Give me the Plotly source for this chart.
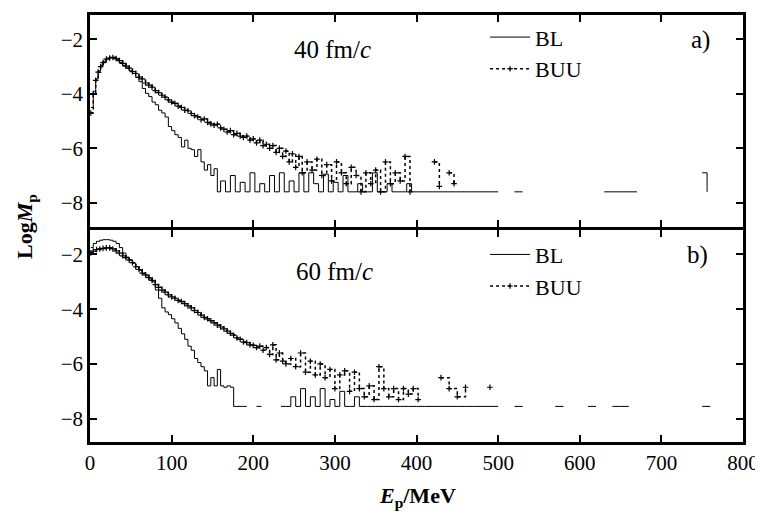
import plotly.graph_objects as go

# ---------------- data ----------------
# Panel a) 40 fm/c
E_A_BUU = [1, 4, 7, 10, 13, 16, 20, 24, 28, 32, 36, 40, 44, 48, 52, 56, 60, 64, 68, 72,
           76, 80, 84, 88, 92, 96, 100, 104, 108, 112, 116, 120, 124, 128, 132, 136, 140,
           144, 148, 152, 156, 160, 164, 168, 172, 176, 180, 184, 188, 192, 196, 200, 204,
           208, 212, 216, 220, 224, 228, 232, 236, 240, 244, 248, 252, 256, 260, 266, 272,
           278, 284, 290, 296, 302, 308, 314, 320, 326, 332, 338, 344, 350, 356, 362, 368,
           374, 380, 386, 392, 398, 422, 428, 434, 440, 446]
LOG_A_BUU = [-4.7, -4.0, -3.5, -3.2, -3.0, -2.85, -2.72, -2.68, -2.66, -2.7, -2.78, -2.88,
             -2.98, -3.05, -3.18, -3.25, -3.38, -3.45, -3.6, -3.68, -3.75, -3.88, -3.95,
             -4.05, -4.12, -4.22, -4.3, -4.35, -4.45, -4.5, -4.6, -4.62, -4.72, -4.8, -4.85,
             -4.95, -4.92, -5.05, -5.1, -5.15, -5.12, -5.25, -5.3, -5.4, -5.35, -5.5, -5.45,
             -5.55, -5.6, -5.55, -5.7, -5.65, -5.8, -5.7, -5.9, -5.85, -6.0, -5.9, -6.15,
             -6.0, -6.3, -6.1, -6.5, -6.2, -6.7, -6.3, -6.9, -6.5, -6.8, -6.4, -7.0, -6.6,
             -7.2, -6.5, -6.9, -7.3, -6.7, -7.0, -7.6, -6.9, -7.3, -6.8, -7.6, -6.5, -7.3,
             -6.9, -7.2, -6.3, -7.6, None, -6.5, -7.4, None, -6.9, -7.3]

E_A_BL = [1, 4, 7, 10, 13, 16, 20, 24, 28, 32, 36, 40, 44, 48, 52, 56, 60, 64, 68, 72, 76,
          80, 84, 88, 92, 96, 100, 104, 108, 112, 116, 120, 124, 128, 132, 136, 140, 144,
          148, 152, 156, 160, 166, 172, 178, 184, 190, 196, 202, 208, 214, 220, 226, 232,
          238, 244, 250, 256, 262, 268, 274, 280, 286, 292, 298, 304, 310, 316, 322, 328,
          334, 340, 346, 352, 358, 364, 370, 376, 382, 388, 394, 400, 410, 420, 430, 440,
          450, 460, 470, 480, 490, 500, 510, 520, 530, 540, 550, 560, 570, 590, 600, 610,
          620, 630, 640, 650, 660, 670, 680, 740, 750, 756, 762]
LOG_A_BL = [-4.5, -3.9, -3.45, -3.15, -2.95, -2.8, -2.7, -2.66, -2.7, -2.75, -2.85, -2.95,
            -3.05, -3.15, -3.25, -3.4, -3.55, -3.8, -3.98, -4.1, -4.3, -4.4, -4.6, -4.7,
            -4.85, -5.2, -5.35, -5.5, -5.6, -5.95, -5.7, -6.0, -6.05, -6.3, -6.05, -6.5,
            -6.8, -6.6, -7.0, -6.75, -7.6, -7.2, -7.6, -7.0, -7.6, -7.25, -7.6, -6.9, -7.6,
            -7.3, -7.6, -7.0, -7.6, -6.9, -7.6, -7.2, -7.6, -6.9, -7.6, -6.9, -7.3, -7.6,
            -6.95, -7.6, -7.25, -7.6, -7.0, -7.6, -7.6, -7.3, -7.6, -7.6, -6.9, -7.6, -7.6,
            -7.3, -7.6, -7.6, -7.6, -7.3, -7.6, -7.6, -7.6, -7.6, -7.6, -7.6, -7.6, -7.6,
            -7.6, -7.6, -7.6, -7.6, None, -7.6, -7.6, None, None, -7.6, None, None, -7.6,
            None, None, -7.6, -7.6, -7.6, -7.6, -7.6, None, None, -6.9, -7.6, None]

# Panel b) 60 fm/c
E_B_BUU = [1, 4, 8, 12, 16, 20, 24, 28, 32, 36, 40, 44, 48, 52, 56, 60, 64, 68, 72, 76, 80,
           84, 88, 92, 96, 100, 104, 108, 112, 116, 120, 124, 128, 132, 136, 140, 144, 148,
           152, 156, 160, 164, 168, 172, 176, 180, 184, 188, 192, 196, 200, 204, 208, 212,
           216, 220, 224, 228, 232, 236, 240, 246, 252, 258, 264, 270, 276, 282, 288, 294,
           300, 306, 312, 318, 324, 330, 336, 342, 348, 354, 360, 366, 372, 378, 384, 390,
           396, 402, 410, 430, 440, 450, 460, 470, 490, 500]
LOG_B_BUU = [-1.95, -1.88, -1.82, -1.8, -1.78, -1.76, -1.76, -1.8, -1.87, -1.95, -2.05,
             -2.12, -2.2, -2.3, -2.45, -2.55, -2.68, -2.75, -2.85, -2.95, -3.1, -3.2, -3.3,
             -3.38, -3.48, -3.55, -3.6, -3.68, -3.72, -3.8, -3.88, -3.95, -4.05, -4.12,
             -4.22, -4.3, -4.35, -4.42, -4.5, -4.58, -4.65, -4.72, -4.8, -4.88, -4.95,
             -5.05, -5.1, -5.2, -5.22, -5.3, -5.32, -5.4, -5.35, -5.5, -5.4, -5.65, -5.3,
             -5.85, -5.6, -5.9, -6.0, -5.8, -6.1, -5.6, -6.3, -5.9, -6.4, -6.0, -6.5, -6.2,
             -6.9, -6.4, -6.25, -7.0, -6.3, -6.9, -7.2, -6.8, -7.3, -6.1, -6.9, -7.2, -6.9,
             -7.3, -6.9, -7.1, -6.9, -7.3, None, -6.5, -6.9, -7.2, -6.85, None, -6.85, None]

E_B_BL = [1, 4, 8, 12, 16, 20, 24, 28, 32, 36, 40, 44, 48, 52, 56, 60, 64, 68, 72, 76, 80,
          84, 88, 92, 96, 100, 104, 108, 112, 116, 120, 124, 128, 132, 136, 140, 144, 148,
          152, 156, 160, 164, 168, 172, 176, 180, 186, 192, 198, 204, 210, 216, 222, 228,
          234, 240, 246, 252, 258, 264, 270, 276, 282, 288, 294, 300, 306, 312, 318, 324,
          330, 340, 350, 360, 370, 380, 390, 400, 410, 420, 430, 440, 450, 460, 470, 480,
          490, 500, 510, 520, 530, 540, 550, 560, 570, 580, 590, 610, 620, 630, 640, 650,
          660, 670, 740, 750, 760]
LOG_B_BL = [-1.75, -1.6, -1.52, -1.48, -1.46, -1.46, -1.48, -1.52, -1.6, -1.75, -1.95,
            -2.1, -2.2, -2.32, -2.45, -2.58, -2.7, -2.78, -2.9, -3.0, -3.3, -3.6, -3.95,
            -4.1, -4.2, -4.35, -4.5, -4.7, -4.9, -5.1, -5.35, -5.5, -5.8, -5.95, -6.1,
            -6.25, -6.8, -6.5, -6.8, -6.2, -6.8, -6.85, -6.8, -6.85, -7.55, -7.55, -7.55,
            -7.55, None, -7.55, -7.55, None, -7.55, None, -7.55, -7.55, -7.2, -7.55, -6.9,
            -7.55, -7.2, -7.55, -6.9, -7.55, -7.3, -7.55, -7.0, -7.55, -7.55, -7.2, -7.55,
            -7.55, -7.55, -7.55, -7.55, -7.55, -7.55, -7.55, -7.55, -7.55, -7.55, -7.55,
            -7.55, -7.55, -7.55, -7.55, -7.55, -7.55, None, -7.55, -7.55, None, -7.55,
            None, -7.55, -7.55, None, -7.55, -7.55, None, -7.55, -7.55, -7.55, None, None,
            -7.55, -7.55]

X_TICKS = [0, 100, 200, 300, 400, 500, 600, 700, 800]
Y_TICKS = [-2, -4, -6, -8]
SERIES_NAMES = ["BL", "BUU"]
PANEL_TIMES = ["40 fm/<i>c</i>", "60 fm/<i>c</i>"]
PANEL_TAGS = ["a)", "b)"]

FONT = "Liberation Serif"
LINE_W = 2.6

fig = go.Figure()

def add_panel(E_bl, L_bl, E_buu, L_buu, xa, ya, leg):
    fig.add_trace(go.Scatter(
        x=E_bl, y=L_bl, name=SERIES_NAMES[0], mode="lines",
        line=dict(color="black", width=1.0, shape="hv"),
        xaxis=xa, yaxis=ya, legend=leg, connectgaps=False))
    fig.add_trace(go.Scatter(
        x=E_buu, y=L_buu, name=SERIES_NAMES[1], mode="lines+markers",
        line=dict(color="black", width=1.5, dash="dot", shape="hv"),
        marker=dict(symbol="cross-thin", size=4, color="black",
                    line=dict(width=1.2, color="black")),
        xaxis=xa, yaxis=ya, legend=leg, connectgaps=False))

add_panel(E_A_BL, LOG_A_BL, E_A_BUU, LOG_A_BUU, "x", "y", "legend")
add_panel(E_B_BL, LOG_B_BL, E_B_BUU, LOG_B_BUU, "x2", "y2", "legend2")

axis_common = dict(
    showline=True, linecolor="black", linewidth=LINE_W, mirror="ticks",
    ticks="inside", ticklen=7, tickwidth=1.6, tickcolor="black",
    showgrid=False, zeroline=False, ticklabeloverflow="allow",
    tickfont=dict(family=FONT, size=21, color="black"),
)

# The page body adds an 8 px offset, so the figure is drawn 8 px smaller.
# A tiny gap between the two panels lets their frame lines coincide.
gap = (LINE_W / 2) / 430
fig.update_layout(
    width=755, height=510,
    margin=dict(l=82, r=16, t=4, b=76),
    paper_bgcolor="white", plot_bgcolor="white",
    font=dict(family=FONT, color="black"),
    xaxis=dict(domain=[0, 1], anchor="y", range=[0, 800], tickvals=X_TICKS,
               showticklabels=False, **axis_common),
    yaxis=dict(domain=[0.5 + gap, 1], anchor="x", range=[-8.9, -1.1], tickvals=Y_TICKS,
               **axis_common),
    xaxis2=dict(domain=[0, 1], anchor="y2", range=[0, 800], tickvals=X_TICKS,
                **axis_common),
    yaxis2=dict(domain=[0, 0.5 - gap], anchor="x2", range=[-8.85, -1.1], tickvals=Y_TICKS,
                **axis_common),
    legend=dict(x=0.605, y=0.997, xanchor="left", yanchor="top",
                bgcolor="rgba(0,0,0,0)", font=dict(family=FONT, size=22),
                tracegroupgap=0, itemwidth=40),
    legend2=dict(x=0.605, y=0.488, xanchor="left", yanchor="top",
                 bgcolor="rgba(0,0,0,0)", font=dict(family=FONT, size=22),
                 tracegroupgap=0, itemwidth=40),
    showlegend=True,
)

ann_font = dict(family=FONT, size=25)
annotations = [
    dict(text=PANEL_TIMES[0], x=0.372, y=0.92, xref="paper", yref="paper",
         xanchor="center", yanchor="middle", showarrow=False, font=ann_font),
    dict(text=PANEL_TAGS[0], x=0.935, y=0.942, xref="paper", yref="paper",
         xanchor="center", yanchor="middle", showarrow=False, font=ann_font),
    dict(text=PANEL_TIMES[1], x=0.375, y=0.40, xref="paper", yref="paper",
         xanchor="center", yanchor="middle", showarrow=False, font=ann_font),
    dict(text=PANEL_TAGS[1], x=0.93, y=0.437, xref="paper", yref="paper",
         xanchor="center", yanchor="middle", showarrow=False, font=ann_font),
    dict(text="<b>Log<i>M</i><sub>p</sub></b>", x=-0.097, y=0.505, xref="paper",
         yref="paper", xanchor="center", yanchor="middle", textangle=-90,
         showarrow=False, font=dict(family=FONT, size=22)),
    dict(text="<b><i>E</i><sub>p</sub>/MeV</b>", x=0.502, y=-0.128, xref="paper",
         yref="paper", xanchor="center", yanchor="middle", showarrow=False,
         font=dict(family=FONT, size=22)),
]
fig.update_layout(annotations=annotations)

fig.write_html("out.html")
